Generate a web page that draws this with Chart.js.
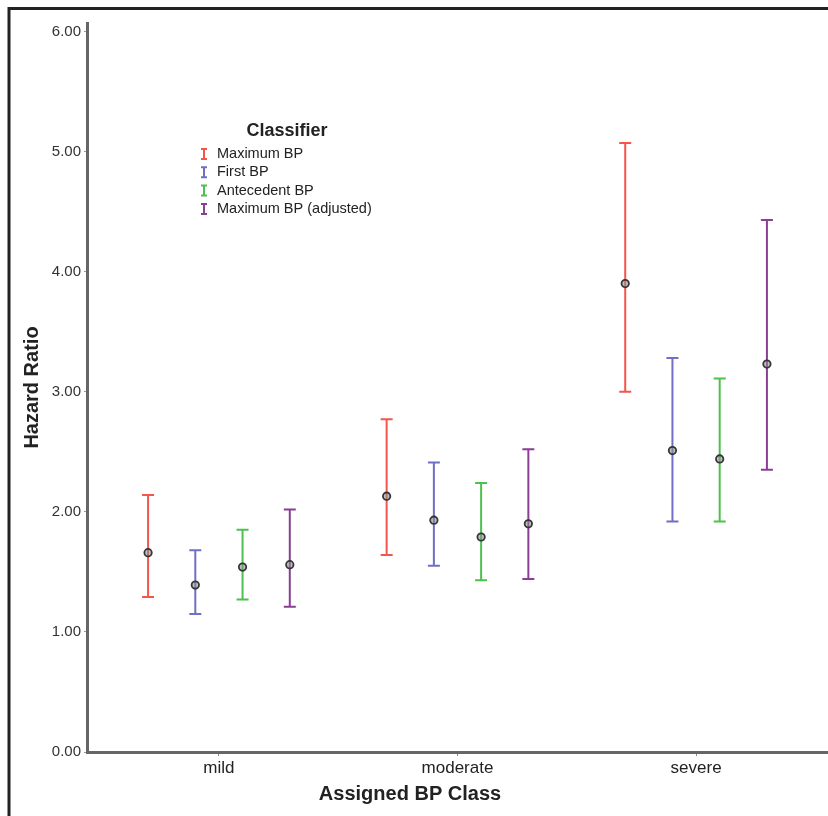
<!DOCTYPE html>
<html>
<head>
<meta charset="utf-8">
<script src="https://cdn.jsdelivr.net/npm/chart.js@4.4.1/dist/chart.umd.min.js"></script>
<style>
  html, body { margin: 0; padding: 0; background: #fff; }
  #wrap { width: 828px; height: 816px; position: relative; }
</style>
</head>
<body>
<div id="wrap"><canvas id="myChart" width="828" height="816"></canvas></div>
<script>
// data
var categories = ["mild", "moderate", "severe"];
var seriesNames = ["Maximum BP", "First BP", "Antecedent BP", "Maximum BP (adjusted)"];

var maxBP      = [1.66, 2.13, 3.90];
var maxBPLow   = [1.29, 1.64, 3.00];
var maxBPHigh  = [2.14, 2.77, 5.07];

var firstBP     = [1.39, 1.93, 2.51];
var firstBPLow  = [1.15, 1.55, 1.92];
var firstBPHigh = [1.68, 2.41, 3.28];

var antBP     = [1.54, 1.79, 2.44];
var antBPLow  = [1.27, 1.43, 1.92];
var antBPHigh = [1.85, 2.24, 3.11];

var adjBP     = [1.56, 1.90, 3.23];
var adjBPLow  = [1.21, 1.44, 2.35];
var adjBPHigh = [2.02, 2.52, 4.43];

var yTicks = [0, 1, 2, 3, 4, 5, 6];

var colors = ["#f4564b", "#6f6fc6", "#4fbf4f", "#8a3f95"];
var dodge = [-0.297, -0.099, 0.099, 0.297];

function makeSeries(est, lo, hi, k) {
  return est.map(function (v, i) {
    return { x: i + dodge[k], y: v, lo: lo[i], hi: hi[i] };
  });
}

var allSeries = [
  makeSeries(maxBP, maxBPLow, maxBPHigh, 0),
  makeSeries(firstBP, firstBPLow, firstBPHigh, 1),
  makeSeries(antBP, antBPLow, antBPHigh, 2),
  makeSeries(adjBP, adjBPLow, adjBPHigh, 3)
];

var FONT = "'Liberation Sans', Arial, sans-serif";

// whiskers + caps, drawn under the points
var errorBars = {
  id: "errorBars",
  beforeDatasetsDraw: function (chart) {
    var ctx = chart.ctx, x = chart.scales.x, y = chart.scales.y;
    chart.data.datasets.forEach(function (ds, i) {
      ctx.save();
      ctx.strokeStyle = colors[i];
      ctx.lineWidth = 2;
      ds.data.forEach(function (d) {
        var px = x.getPixelForValue(d.x);
        var top = y.getPixelForValue(d.hi);
        var bot = y.getPixelForValue(d.lo);
        ctx.beginPath();
        ctx.moveTo(px, top); ctx.lineTo(px, bot);
        ctx.moveTo(px - 6, top); ctx.lineTo(px + 6, top);
        ctx.moveTo(px - 6, bot); ctx.lineTo(px + 6, bot);
        ctx.stroke();
      });
      ctx.restore();
    });
  }
};

// outer frame, x title (centred on the page, not the plot) and legend box
var decorations = {
  id: "decorations",
  afterDraw: function (chart) {
    var ctx = chart.ctx;
    ctx.save();
    ctx.strokeStyle = "#222";
    ctx.lineWidth = 3;
    ctx.beginPath();
    ctx.moveTo(9, 816); ctx.lineTo(9, 8.5); ctx.lineTo(828, 8.5);
    ctx.stroke();

    ctx.fillStyle = "#222";
    ctx.textAlign = "center";
    ctx.textBaseline = "middle";
    ctx.font = "bold 20px " + FONT;
    ctx.fillText("Assigned BP Class", 410, 794);

    ctx.font = "bold 18px " + FONT;
    ctx.fillText("Classifier", 287, 131);

    ctx.font = "14.5px " + FONT;
    ctx.textAlign = "left";
    seriesNames.forEach(function (name, i) {
      var cy = 154 + i * 18.3;
      ctx.strokeStyle = colors[i];
      ctx.lineWidth = 2;
      ctx.beginPath();
      ctx.moveTo(204, cy - 5); ctx.lineTo(204, cy + 5);
      ctx.moveTo(201, cy - 5); ctx.lineTo(207, cy - 5);
      ctx.moveTo(201, cy + 5); ctx.lineTo(207, cy + 5);
      ctx.stroke();
      ctx.fillStyle = "#222";
      ctx.fillText(name, 217, cy);
    });
    ctx.restore();
  }
};

var ctx = document.getElementById("myChart");
new Chart(ctx, {
  type: "scatter",
  data: {
    datasets: allSeries.map(function (s, i) {
      return {
        label: seriesNames[i],
        data: s,
        pointRadius: 3.7,
        pointHoverRadius: 3.7,
        pointBorderWidth: 1.8,
        pointBorderColor: "#363636",
        pointBackgroundColor: "rgba(140,140,140,0.55)"
      };
    })
  },
  options: {
    responsive: false,
    animation: false,
    layout: { autoPadding: false, padding: { top: 23, left: 0, right: 0, bottom: 0 } },
    plugins: {
      legend: { display: false },
      tooltip: { enabled: false }
    },
    scales: {
      x: {
        type: "linear",
        min: -0.553,
        max: 2.553,
        afterFit: function (scale) { scale.height = 64; },
        afterBuildTicks: function (scale) {
          scale.ticks = categories.map(function (c, i) { return { value: i }; });
        },
        ticks: {
          autoSkip: false,
          maxRotation: 0,
          padding: 2,
          color: "#222",
          font: { family: FONT, size: 17 },
          callback: function (v) { return categories[v]; }
        },
        grid: { drawOnChartArea: false, tickLength: 4, color: "#888", lineWidth: 1 },
        border: { display: true, color: "#666", width: 3 },
        title: { display: false }
      },
      y: {
        min: 0,
        max: 6.07,
        afterFit: function (scale) { scale.width = 87; },
        afterBuildTicks: function (scale) {
          scale.ticks = yTicks.map(function (v) { return { value: v }; });
        },
        ticks: {
          padding: 3,
          color: "#333",
          font: { family: FONT, size: 15 },
          callback: function (v) { return Number(v).toFixed(2); }
        },
        grid: { drawOnChartArea: false, tickLength: 3, color: "#999", lineWidth: 1 },
        border: { display: true, color: "#666", width: 3 },
        title: {
          display: true,
          text: "Hazard Ratio",
          color: "#222",
          font: { family: FONT, size: 20, weight: "bold" },
          padding: { top: 20, bottom: 0 }
        }
      }
    }
  },
  plugins: [errorBars, decorations]
});
</script>
</body>
</html>
